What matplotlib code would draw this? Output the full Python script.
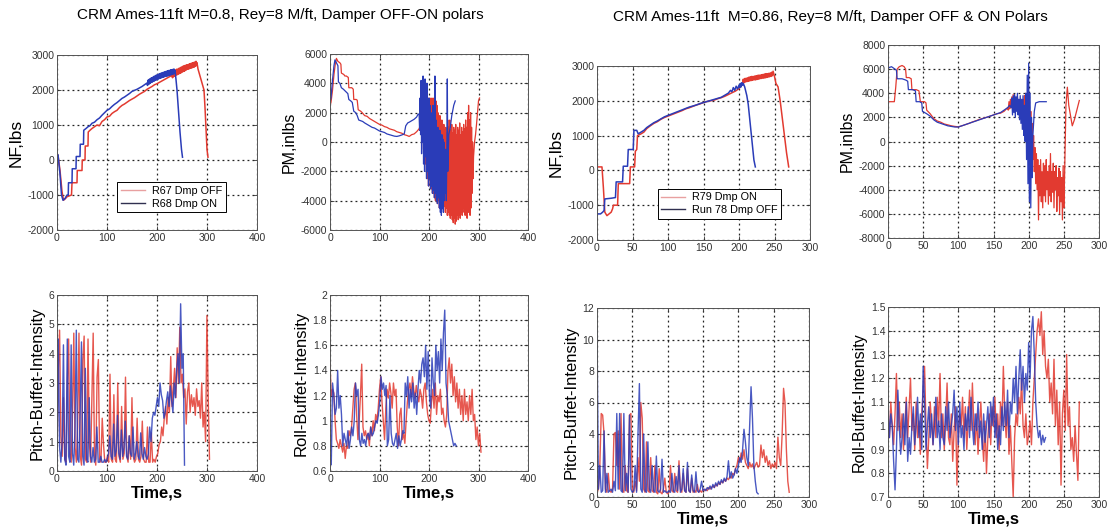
import numpy as np
import matplotlib
matplotlib.use("Agg")
import matplotlib.pyplot as plt
from matplotlib.ticker import FuncFormatter

plt.rcParams['font.family'] = ['Liberation Sans', 'DejaVu Sans']

RED = '#e23a30'
BLUE = '#2a3cb8'

# ---------------- M=0.8 : Normal force (time, value) ----------------
nf08_off = [(0,130),(2,140),(6,-300),(10,-900),(13,-1150),(17,-1100),(20,-1050),(29,-1000),(30,-650),(40,-650),(40.5,-300),(50,-300),(50.5,0),(56,0),(56.5,400),(62,400),(62.5,800),(66,850),(70,900),(75,950),(80,1000),(85,980),(90,1100),(95,1150),(100,1230),(105,1250),(110,1330),(115,1380),(120,1420),(125,1500),(130,1560),(135,1600),(140,1650),(145,1700),(150,1740),(155,1780),(160,1830),(165,1880),(170,1920),(175,1960),(180,2020),(185,2060),(190,2100),(195,2150),(200,2180),(205,2220),(210,2260),(215,2300),(220,2340),(225,2380),(230,2420),
(231,2350),(232,2520),(233,2380),(234,2540),(235,2400),(236,2550),(237,2420),(238,2580),(239,2430),(240,2600),(241,2440),(242,2590),(243,2460),(244,2620),(245,2470),(246,2630),(247,2480),(248,2650),(249,2500),(250,2660),(251,2520),(252,2680),(253,2530),(254,2690),(255,2540),(256,2700),(257,2560),(258,2710),(259,2580),(260,2720),(261,2590),(262,2720),(263,2600),(264,2740),(265,2610),(266,2750),(267,2620),(268,2760),(269,2630),(270,2770),(271,2640),(272,2780),(273,2650),(274,2790),(275,2660),(276,2800),(277,2680),(278,2820),(279,2700),(280,2780),(282,2600),(285,2450),(288,2300),(291,2150),(294,2000),(296,1500),(298,900),(300,300),(302,80)]
nf08_on = [(0,130),(2,150),(6,-400),(9,-1000),(12,-1150),(16,-1100),(20,-1000),(22.5,-1000),(23,-650),(30,-650),(30.5,-250),(38,-250),(38.5,100),(46,100),(46.5,450),(53,450),(53.5,850),(58,900),(62,950),(66,980),(70,1050),(75,1080),(80,1150),(85,1200),(90,1280),(95,1350),(100,1420),(105,1460),(110,1530),(115,1590),(120,1640),(125,1700),(130,1760),(135,1800),(140,1850),(145,1900),(150,1960),(155,1990),(160,2020),(165,2060),(170,2100),(175,2150),(180,2200),
(181,2130),(182,2280),(183,2160),(184,2300),(185,2180),(186,2320),(187,2200),(188,2340),(189,2220),(190,2350),(191,2230),(192,2370),(193,2250),(194,2390),(195,2260),(196,2400),(197,2280),(198,2420),(199,2290),(200,2430),(201,2300),(202,2440),(203,2320),(204,2460),(205,2330),(206,2470),(207,2340),(208,2480),(209,2350),(210,2490),(211,2360),(212,2500),(213,2370),(214,2510),(215,2380),(216,2520),(217,2390),(218,2530),(219,2400),(220,2540),(221,2400),(222,2550),(223,2410),(224,2560),(225,2420),(226,2560),(227,2430),(228,2580),(229,2440),(230,2580),(231,2450),(232,2590),(233,2460),(234,2600),(235,2480),(236,2560),(238,2300),(240,2000),(243,1400),(246,800),(249,300),(251,80)]

# ---------------- M=0.8 : Pitching moment ----------------
pm08_off = [(0,2500),(2,2700),(5,3500),(8,4600),(11,5400),(13,5700),(16,5500),(20,5400),(22,5300),(23,4700),(28,4600),(30,4500),(33,4500),(37,4400),(38,3700),(44,3700),(47,3600),(48,2900),(53,2900),(55,2850),(57,2200),(62,2100),(65,2000),(70,1800),(75,1750),(80,1600),(85,1500),(90,1400),(95,1300),(100,1200),(105,1150),(110,1050),(115,1000),(120,900),(125,850),(130,800),(135,700),(140,650),(145,600),(150,500),(155,450),(160,380),(165,500),(170,550),(175,700),(180,900),(183,1200),(186,1500),
(188,2800),(189,-500),(190,3000),(191,-1000),(192,2500),(193,-1500),(194,3200),(195,-2000),(196,2800),(197,-2500),(198,3000),(199,-3000),(200,2500),(201,-2500),(202,3000),(203,-3000),(204,2700),(205,-3200),(206,3000),(207,-3500),(208,2800),(209,-3500),(210,3000),(211,-3800),(212,2500),(213,-4000),(214,2800),(215,-4000),(216,2500),(217,-4200),(218,2000),(219,-4000),(220,1500),(221,-4500),(222,1800),(223,-4200),(224,1200),(225,-4500),(226,1500),(227,-4300),(228,1000),(229,-4600),(230,1200),(231,-4400),(232,800),(233,-4800),(234,1000),(235,-4500),(236,600),(237,-5000),(238,1500),(239,-4800),(240,1000),
(241,-5000),(242,1500),(243,-5200),(244,800),(245,-5000),(246,1200),(247,-5300),(248,600),(249,-5500),(250,1000),(251,-5200),(252,800),(253,-5600),(254,1200),(255,-5400),(256,500),(257,-5000),(258,1000),(259,-5300),(260,800),(261,-5000),(262,1300),(263,-5200),(264,500),(265,-4800),(266,1000),(267,-5000),(268,700),(269,-4500),(270,1200),(271,-4800),(272,900),(273,-5000),(274,1500),(275,-4600),(276,1000),(277,-5200),(278,2000),(279,-4800),(280,2500),(281,-4500),(282,1500),(283,-5000),(284,2000),(285,-4500),(286,1000),(287,-3500),(288,0),(289,-2500),(290,-1000),(292,0),(294,500),(296,1200),(298,2000),(300,2800),(302,3000)]
pm08_on = [(0,2700),(2,3000),(5,4200),(8,5200),(10,5600),(13,5400),(16,5200),(17,4100),(20,4000),(23,3700),(27,3600),(30,3500),(33,3400),(36,3300),(38,2900),(42,2800),(45,2700),(48,2100),(52,2000),(55,1800),(58,1500),(62,1450),(66,1400),(70,1300),(75,1200),(80,1100),(85,1000),(90,950),(95,850),(100,750),(105,700),(110,650),(115,550),(120,500),(125,450),(130,400),(135,380),(140,420),(145,480),(150,550),(153,1100),(157,1300),(160,1350),(165,1450),(170,1550),(175,1700),(178,1900),
(180,1900),(181,800),(182,3000),(183,500),(184,4200),(185,-800),(186,3500),(187,0),(188,4500),(189,-1500),(190,3800),(191,-2000),(192,4300),(193,-1000),(194,3000),(195,-2500),(196,4000),(197,-2000),(198,2800),(199,-3000),(200,3000),(201,-2500),(202,2500),(203,-3200),(204,2000),(205,-3000),(206,1800),(207,-3500),(208,2500),(209,-3300),(210,1500),(211,-3800),(212,4500),(213,-3500),(214,1500),(215,-4000),(216,800),(217,-4200),(218,1000),(219,-3800),(220,500),(221,-4500),(222,800),(223,-4800),(224,300),(225,-5000),(226,500),(227,-4500),(228,200),(229,-4800),(230,0),(231,-4000),(232,-500),(233,-3500),(234,-500),(235,-4000),(236,-1000),(237,4300),(238,-2000),(240,500),(243,1000),(246,1800),(250,2500),(253,2800)]

# ---------------- M=0.86 : Normal force ----------------
nf086_on = [(0,100),(7,100),(9,-500),(11,-1200),(14,-1300),(17,-1250),(20,-1200),(22,-1100),(23,-1000),(29,-1000),(30,-380),(40,-380),(46,-380),(47,100),(53,100),(54,550),(56,600),(57,1000),(62,1050),(66,1100),(70,1200),(75,1280),(80,1350),(85,1400),(90,1470),(95,1520),(100,1560),(105,1600),(110,1640),(115,1680),(120,1720),(125,1770),(130,1800),(135,1840),(140,1880),(145,1910),(150,1950),(155,1980),(160,2000),(165,2020),(170,2060),(175,2090),(180,2130),(185,2180),(190,2230),(195,2280),(200,2350),(203,2450),
(205,2500),(206,2620),(207,2520),(208,2640),(209,2540),(210,2650),(211,2550),(212,2660),(213,2560),(214,2680),(215,2570),(216,2690),(217,2580),(218,2700),(219,2590),(220,2700),(221,2600),(222,2710),(223,2600),(224,2720),(225,2610),(226,2730),(227,2620),(228,2740),(229,2630),(230,2740),(231,2640),(232,2750),(233,2650),(234,2760),(235,2650),(236,2770),(237,2660),(238,2780),(239,2670),(240,2780),(241,2680),(242,2790),(243,2690),(244,2800),(245,2700),(246,2820),(247,2720),(248,2850),(250,2700),(252,2500),(255,2400),(258,2000),(261,1500),(264,1000),(267,500),(270,100)]
nf086_off = [(0,-1250),(5,-1250),(8,-1200),(10,-1150),(11,-820),(20,-800),(26,-780),(27,-330),(36,-330),(37,120),(43,120),(44,600),(51,600),(52,1150),(56,1150),(58,1050),(62,1100),(66,1150),(70,1230),(75,1300),(80,1370),(85,1420),(90,1480),(95,1540),(100,1580),(105,1620),(110,1660),(115,1700),(120,1740),(125,1780),(130,1820),(135,1850),(140,1880),(145,1920),(150,1950),(155,1980),(160,2010),(165,2040),(170,2070),(175,2100),(180,2160),(185,2220),(188,2300),(190,2260),(192,2380),(194,2300),(196,2420),(198,2340),(200,2450),(201,2380),(202,2500),(203,2400),(204,2520),(205,2450),(206,2500),(208,2400),(211,2150),(213,1900),(215,1500),(217,1100),(219,700),(221,300),(223,100)]

# ---------------- M=0.86 : Pitching moment ----------------
pm086_on = [(0,3300),(9,3300),(11,4500),(13,6000),(16,6200),(20,6300),(23,6200),(25,6000),(26,5300),(30,5300),(33,5200),(34,4300),(40,4300),(44,4200),(46,3300),(52,3300),(54,3200),(55,2600),(60,2300),(65,1900),(70,1700),(75,1600),(80,1450),(85,1380),(90,1300),(95,1250),(100,1220),(105,1300),(110,1400),(115,1500),(120,1620),(125,1720),(130,1830),(135,1920),(140,2000),(145,2100),(150,2200),(155,2300),(160,2350),(165,2500),(170,2800),
(171,2600),(172,3300),(173,2700),(174,3500),(175,2800),(176,3700),(177,2900),(178,3900),(179,2700),(180,3800),(181,2900),(182,3600),(183,2700),(184,3700),(185,2500),(186,3400),(187,2600),(188,3500),(189,2300),(190,3300),(191,2000),(192,3500),(193,2500),(194,3800),(195,2800),(196,4000),
(197,3500),(198,2500),(199,3800),(200,2000),(201,3000),(202,500),(203,2500),(204,-500),(205,1500),(206,-1500),(207,500),(208,-2500),(209,-500),(210,-3500),(211,-1000),(212,-4000),(213,-1500),(214,-6500),(215,-2000),(216,-4500),(217,-1500),(218,-5000),(219,-2500),(220,-5500),(221,-1800),(222,-4500),(223,-2000),(224,-5000),(225,-1500),(226,-4000),(227,-2500),(228,-5200),(229,-2000),(230,-4500),(231,-1000),(232,-5000),(233,-2500),(234,-4200),(235,-1800),(236,-5500),(237,-2500),(238,-4000),(239,-2000),(240,-5800),(241,-3000),(242,-4500),(243,-2200),(244,-6000),(245,-2500),(246,-5000),(247,-3000),(248,-6500),(249,-2000),(250,-5500),(251,-3000),(252,0),
(253,3000),(255,4500),(257,3000),(260,2000),(262,1300),(265,1800),(268,2500),(272,3400)]
pm086_off = [(0,6100),(5,6200),(10,6000),(12,5900),(13,5200),(20,5200),(25,5100),(28,5000),(29,4300),(35,4300),(39,4200),(40,3300),(45,3300),(48,3200),(49,2500),(55,2300),(60,2100),(65,1800),(70,1600),(75,1500),(80,1400),(85,1300),(90,1250),(95,1200),(100,1200),(105,1300),(110,1400),(115,1500),(120,1600),(125,1700),(130,1800),(135,1900),(140,2000),(145,2100),(150,2200),(155,2300),(160,2400),(165,2600),(170,2800),(173,3000),
(175,2800),(176,3600),(177,2200),(178,3800),(179,2400),(180,3900),(181,2000),(182,3700),(183,2500),(184,4000),(185,2200),(186,3500),(187,1800),(188,3800),(189,1500),(190,3500),(191,1000),(192,3800),(193,500),(194,3000),(195,0),(196,4000),(197,-1500),(198,5500),(199,-3500),(200,6500),(201,-5000),(202,4000),(203,-5500),(204,2000),(205,-3000),(206,500),
(208,2500),(210,3200),(215,3300),(220,3300),(225,3300)]

# ---------------- M=0.8 : buffet intensities (evenly sampled) ----------------
pitch08_end_off, pitch08_end_on = 305, 255
pitch08_off = [0.4,3.5,4.8,1.2,0.5,2.5,0.4,0.3,3.0,4.5,0.6,0.3,2.0,4.7,0.8,0.3,1.5,4.7,0.5,0.2,3.8,4.6,0.4,0.3,4.5,1.0,0.3,2.5,4.7,0.5,0.2,3.2,3.8,0.4,0.3,1.8,0.9,0.3,0.3,0.5,
               0.3,3.3,0.4,0.3,2.6,0.4,0.3,3.0,0.5,0.3,2.2,0.4,0.6,3.2,0.5,0.3,1.2,0.4,2.5,0.5,0.3,0.4,1.8,0.4,0.3,0.5,1.7,0.4,0.3,0.3,1.5,0.3,0.3,1.3,0.3,0.4,0.3,0.5,0.6,
               0.9,1.0,1.5,1.2,1.8,2.2,1.6,2.5,2.0,3.9,2.2,2.8,3.5,2.5,4.2,3.0,4.9,3.0,3.3,2.5,2.8,1.6,2.7,3.0,2.0,2.6,2.2,2.5,1.9,2.8,2.2,2.4,1.8,3.0,1.5,2.0,1.0,5.3,2.5,0.4]
pitch08_on = [0.3,4.5,0.8,0.3,1.0,4.3,0.4,0.2,4.5,0.5,0.3,4.3,0.6,0.2,1.5,4.8,0.4,0.3,2.0,4.4,0.5,0.2,3.5,0.4,0.3,2.5,0.5,0.3,0.8,0.3,0.4,1.5,0.3,0.3,0.5,0.3,0.3,0.4,0.3,
              0.4,0.6,1.2,0.5,0.4,1.6,0.5,0.7,1.9,0.6,0.4,1.4,0.5,0.8,1.7,0.5,0.4,1.2,0.6,0.5,1.5,0.4,0.6,1.0,0.5,0.4,1.3,0.6,0.4,0.8,0.5,0.4,0.6,1.5,1.0,1.8,2.0,1.9,2.2,
              2.5,2.2,3.0,2.6,2.4,1.8,2.0,2.4,2.7,2.2,2.9,2.4,2.0,3.0,2.5,3.5,4.0,3.0,5.7,3.5,4.0,0.2]
roll08_off = [1.45,1.20,1.25,1.22,1.00,0.85,0.82,0.78,0.85,0.80,
              0.75,0.82,0.70,0.80,0.78,0.92,0.88,0.95,1.10,1.25,
              1.30,1.05,0.85,1.00,1.20,1.45,0.95,0.88,0.92,0.85,
              0.90,0.80,0.95,0.88,1.00,0.92,1.05,1.00,1.10,1.25,
              1.35,1.15,1.00,0.85,1.10,1.25,1.18,1.30,1.22,1.10,
              1.30,1.20,1.25,0.95,0.80,1.05,1.10,0.85,0.90,0.82,
              1.00,1.15,1.25,1.30,1.20,1.35,1.25,1.18,1.28,1.20,
              1.15,1.25,1.20,1.10,1.25,1.30,1.15,1.05,1.00,0.98,
              1.15,1.25,1.10,1.30,1.05,1.20,1.15,1.25,1.05,1.10,
              1.00,0.95,1.05,1.40,1.50,1.30,1.45,1.20,1.35,1.15,
              1.30,1.10,1.25,1.05,1.20,1.00,1.25,1.05,1.15,1.00,
              1.20,1.05,1.25,1.00,1.05,0.85,0.95,0.80,0.90,0.75]
roll08_on = [0.70,0.65,1.30,1.20,1.05,1.10,1.40,1.10,1.20,1.05,
             0.80,0.90,0.85,0.80,0.92,0.78,0.85,0.95,0.88,1.00,
             1.30,1.20,1.25,0.85,0.80,0.90,0.82,0.85,0.80,0.88,
             0.90,0.85,0.95,0.88,0.90,0.95,1.00,0.98,1.05,1.15,
             1.35,1.25,1.30,1.20,1.28,0.80,0.85,1.20,0.90,0.82,
             0.80,0.85,0.90,0.78,0.88,0.80,0.85,0.92,0.90,1.30,
             1.20,1.35,1.10,1.25,1.15,1.30,1.10,1.22,1.05,1.25,
             1.40,1.30,1.45,1.50,1.35,1.60,1.25,1.55,1.20,1.10,
             1.50,1.30,1.20,1.60,1.40,1.55,1.30,1.65,1.40,1.70,
             1.88,1.30,1.20,1.00,0.95,0.90,0.85,0.80,0.82,0.80]

# ---------------- M=0.86 : buffet intensities (evenly sampled) ----------------
pitch086_end_on, pitch086_end_off = 272, 228
pitch086_off = [10.7,0.5,2.0,0.3,0.4,4.2,0.3,1.5,0.3,0.4,0.5,0.3,1.0,0.4,5.3,0.5,5.3,0.4,0.3,5.3,0.4,1.5,0.3,5.2,0.5,0.3,0.4,2.0,0.3,4.0,7.2,0.5,0.3,4.0,0.4,0.3,3.5,0.5,0.3,2.0,0.4,0.3,2.6,0.4,0.3,0.5,2.4,0.3,0.4,0.3,
                0.3,0.4,0.3,1.5,0.4,0.3,1.3,0.4,2.0,0.3,0.5,1.8,0.4,0.3,2.2,0.4,0.3,1.4,0.4,0.3,1.6,0.4,0.3,0.5,1.0,0.4,0.5,0.4,0.6,0.5,0.7,0.5,0.8,0.6,0.9,0.7,1.0,0.8,1.1,0.9,1.2,1.0,1.3,2.3,1.2,1.6,1.2,1.4,1.8,1.5,
                2.0,2.5,2.2,3.0,4.3,3.5,2.5,2.0,4.5,7.0,5.0,2.0,1.0,0.3,0.2]
pitch086_on = [0.3,0.5,2.0,5.3,5.2,4.0,0.5,0.3,1.5,0.4,0.3,0.5,4.0,4.1,2.0,4.2,0.5,5.3,0.4,0.3,2.0,0.4,0.3,5.2,5.3,0.5,0.3,1.0,0.4,2.5,1.0,6.0,5.0,0.5,0.3,3.5,0.4,0.3,2.5,0.4,0.3,2.0,0.3,0.2,1.8,0.3,0.2,0.5,1.2,0.3,
               0.2,0.3,2.0,0.4,0.3,1.5,0.4,0.3,2.3,0.5,0.3,1.5,0.4,0.3,1.8,0.4,0.3,1.2,0.3,0.4,0.3,0.8,0.3,0.4,0.3,0.5,0.4,0.5,0.4,0.6,0.5,0.6,0.7,0.6,0.8,0.7,0.9,0.8,1.0,0.9,1.1,1.0,1.2,1.1,1.3,1.2,1.5,1.4,1.8,2.0,
               2.5,2.2,2.8,2.4,3.0,2.2,2.0,1.8,2.2,1.9,2.1,1.8,2.0,2.2,1.9,2.0,3.3,2.5,3.0,2.2,2.6,2.0,2.3,1.8,2.1,1.9,2.2,1.8,3.8,2.5,2.0,4.0,6.9,6.0,3.0,1.0,0.3]
roll086_end_on, roll086_end_off = 272, 224
roll086_on = [1.05,0.95,1.10,1.00,0.92,1.05,1.22,0.98,1.10,0.95,1.05,0.90,1.00,1.12,0.95,1.08,1.20,0.98,1.05,0.90,
              1.10,0.95,1.02,0.88,1.05,1.15,1.25,1.00,0.82,0.95,1.10,1.00,0.92,1.08,0.95,1.12,1.00,1.22,0.95,1.05,
              0.90,1.02,1.18,0.95,0.92,1.05,0.85,0.98,1.08,0.75,0.95,1.05,1.00,1.12,0.95,1.08,0.90,1.02,1.15,0.98,
              1.18,1.00,0.92,1.05,0.88,1.00,1.10,0.95,0.85,1.02,0.80,0.95,1.05,0.92,1.08,1.00,1.12,0.95,1.05,0.90,
              1.10,1.00,1.25,1.05,0.95,1.10,0.88,1.00,0.85,0.70,0.95,1.05,1.00,1.12,1.05,1.20,1.00,0.95,1.05,0.92,
              0.96,1.02,0.92,1.10,1.20,1.30,1.40,1.45,1.38,1.48,1.30,1.40,1.25,1.20,1.28,1.10,1.18,1.05,1.28,1.00,
              1.15,0.92,1.10,0.75,1.05,1.15,0.98,1.30,1.00,1.08,0.90,0.95,0.85,1.00,0.88,0.77,1.10]
roll086_off = [1.10,0.95,1.05,1.00,0.85,0.73,0.90,1.15,1.00,0.88,0.95,1.05,0.92,1.10,0.85,0.95,0.88,1.00,1.08,0.92,
               1.00,1.12,0.95,1.05,0.90,1.25,1.10,0.90,1.00,1.08,0.95,1.05,0.92,1.00,1.12,0.95,1.02,0.90,1.05,0.95,
               0.92,1.08,0.98,1.10,0.95,1.00,1.05,1.15,0.98,1.08,0.92,1.10,0.95,1.00,0.90,1.05,0.98,1.08,0.95,1.12,
               1.00,0.92,1.05,0.98,1.10,0.95,1.02,0.90,1.05,0.93,1.00,1.08,0.95,1.10,1.00,1.12,0.95,1.05,0.90,1.00,
               0.92,1.08,0.98,1.10,1.00,1.15,0.95,1.10,1.05,1.20,1.10,1.25,1.05,1.20,1.32,1.15,1.25,1.10,1.22,1.15,
               1.35,1.20,1.40,1.46,1.30,1.10,1.00,0.95,0.98,0.92,0.96,0.93,0.95]

# ---------------- text ----------------
title_08 = "CRM Ames-11ft M=0.8, Rey=8 M/ft, Damper OFF-ON polars"
title_086 = "CRM Ames-11ft  M=0.86, Rey=8 M/ft, Damper OFF & ON Polars"

W, H = 1109, 531
fig = plt.figure(figsize=(W/100, H/100), dpi=100)

def ax_px(l, r, t, b):
    return fig.add_axes([l/W, 1-b/H, (r-l)/W, (b-t)/H])

def fmt_g(v, pos):
    return ('%g' % round(v, 6))

def style(ax, xlim, xt, ylim, yt, ylabel, ylsize=11, xlabel=None):
    ax.set_xlim(*xlim); ax.set_ylim(*ylim)
    ax.set_xticks(xt); ax.set_yticks(yt)
    ax.xaxis.set_major_formatter(FuncFormatter(fmt_g))
    ax.yaxis.set_major_formatter(FuncFormatter(fmt_g))
    ax.tick_params(direction='in', length=3, width=0.6, labelsize=7.5, colors='#333333',
                   top=True, right=True, pad=2)
    ax.grid(True, color='#222222', linestyle=(0, (1.5, 2.5)), linewidth=0.9)
    for s in ax.spines.values():
        s.set_linewidth(0.7); s.set_color('#555555')
    ax.set_ylabel(ylabel, fontsize=ylsize, labelpad=3)
    if xlabel:
        ax.set_xlabel(xlabel, fontsize=12, fontweight='bold', labelpad=1)

def plot_pairs(ax, pairs, color, lw=1.1):
    a = np.array(pairs, dtype=float)
    ax.plot(a[:, 0], a[:, 1], color=color, lw=lw)

def plot_even(ax, vals, t_end, color, lw=1.0, alpha=1.0):
    t = np.linspace(0, t_end, len(vals))
    ax.plot(t, vals, color=color, lw=lw, alpha=alpha)

def legend(ax, handles, anchor):
    leg = ax.legend(handles=handles, loc='lower right', bbox_to_anchor=anchor, fontsize=7.8,
                    frameon=True, fancybox=False, edgecolor='black', framealpha=1,
                    handlelength=2.2, borderpad=0.35, labelspacing=0.25, handletextpad=0.6)
    leg.get_frame().set_linewidth(0.7)

# Panel 1: NF M=0.8
ax1 = ax_px(57, 257, 55, 230)
l1, = ax1.plot([], [], color='#e8a0a0', lw=1.0, label='R67 Dmp OFF')
l2, = ax1.plot([], [], color='#303050', lw=1.0, label='R68 Dmp ON')
plot_pairs(ax1, nf08_off, RED)
plot_pairs(ax1, nf08_on, BLUE)
style(ax1, (0, 400), range(0, 401, 100), (-2000, 3000), range(-2000, 3001, 1000), 'NF,lbs', 12.5)
legend(ax1, [l1, l2], (0.87, 0.07))

# Panel 2: PM M=0.8
ax2 = ax_px(330, 528, 54, 230)
plot_pairs(ax2, pm08_off, RED, lw=0.9)
plot_pairs(ax2, pm08_on, BLUE, lw=0.9)
style(ax2, (0, 400), range(0, 401, 100), (-6000, 6000), range(-6000, 6001, 2000), 'PM,inlbs', 11.5)

# Panel 3: NF M=0.86
ax3 = ax_px(597, 810, 66, 240)
l3, = ax3.plot([], [], color='#e8a0a0', lw=1.0, label='R79 Dmp ON')
l4, = ax3.plot([], [], color='#303050', lw=1.0, label='Run 78 Dmp OFF')
plot_pairs(ax3, nf086_on, RED)
plot_pairs(ax3, nf086_off, BLUE)
style(ax3, (0, 300), range(0, 301, 50), (-2000, 3000), range(-2000, 3001, 1000), 'NF,lbs', 12.5)
legend(ax3, [l3, l4], (0.89, 0.09))

# Panel 4: PM M=0.86
ax4 = ax_px(888, 1099, 45, 238)
plot_pairs(ax4, pm086_on, RED, lw=0.9)
plot_pairs(ax4, pm086_off, BLUE, lw=0.9)
style(ax4, (0, 300), range(0, 301, 50), (-8000, 8000), range(-8000, 8001, 2000), 'PM,inlbs', 11.5)

# Panel 5: Pitch buffet M=0.8
ax5 = ax_px(57, 257, 295, 471)
plot_even(ax5, pitch08_off, pitch08_end_off, RED, lw=1.0, alpha=0.85)
plot_even(ax5, pitch08_on, pitch08_end_on, BLUE, lw=1.0, alpha=0.85)
style(ax5, (0, 400), range(0, 401, 100), (0, 6), range(0, 7), 'Pitch-Buffet-Intensity', 12, xlabel='Time,s')

# Panel 6: Roll buffet M=0.8
ax6 = ax_px(330, 528, 295, 471)
plot_even(ax6, roll08_off, 305, RED, lw=1.0, alpha=0.85)
plot_even(ax6, roll08_on, 255, BLUE, lw=1.0, alpha=0.85)
style(ax6, (0, 400), range(0, 401, 100), (0.6, 2.0), np.arange(0.6, 2.01, 0.2), 'Roll-Buffet-Intensity', 12, xlabel='Time,s')

# Panel 7: Pitch buffet M=0.86
ax7 = ax_px(597, 809, 308, 497)
plot_even(ax7, pitch086_on, pitch086_end_on, RED, lw=1.0, alpha=0.85)
plot_even(ax7, pitch086_off, pitch086_end_off, BLUE, lw=1.0, alpha=0.85)
style(ax7, (0, 300), range(0, 301, 50), (0, 12), range(0, 13, 2), 'Pitch-Buffet-Intensity', 12, xlabel='Time,s')

# Panel 8: Roll buffet M=0.86
ax8 = ax_px(888, 1099, 307, 497)
plot_even(ax8, roll086_on, roll086_end_on, RED, lw=1.0, alpha=0.85)
plot_even(ax8, roll086_off, roll086_end_off, BLUE, lw=1.0, alpha=0.85)
style(ax8, (0, 300), range(0, 301, 50), (0.7, 1.5), np.arange(0.7, 1.51, 0.1), 'Roll-Buffet-Intensity', 11.5, xlabel='Time,s')

fig.text(280/W, 1-15/H, title_08, ha='center', va='center', fontsize=11)
fig.text(830/W, 1-17/H, title_086, ha='center', va='center', fontsize=11)

fig.savefig('out.png', dpi=100)
